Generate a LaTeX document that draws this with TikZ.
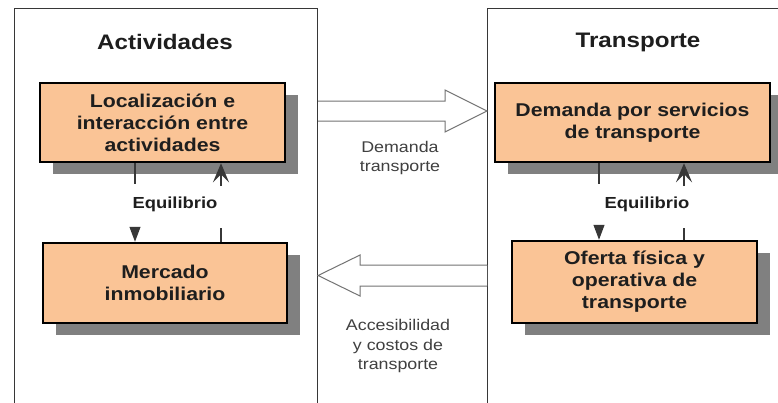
\documentclass[tikz,border=0pt]{standalone}
\usepackage{fontspec}
\setmainfont[FakeStretch=1.15]{Liberation Sans}
\usetikzlibrary{arrows.meta,shadows}
\definecolor{peach}{RGB}{250,196,150}
\definecolor{shadowgray}{RGB}{128,128,128}
\definecolor{framegray}{RGB}{55,55,55}
\definecolor{arrowgray}{RGB}{115,115,115}
\definecolor{txt}{RGB}{30,30,30}
\begin{document}
\begin{tikzpicture}[x=1pt,y=-1pt,
  panel/.style={draw=framegray,line width=1.1pt,inner sep=0pt},
  box/.style={draw=black,line width=2.5pt,fill=peach,align=center,
    font=\fontsize{18.5}{22}\selectfont\bfseries,text=txt,inner sep=0pt,
    drop shadow={shadow xshift=13pt,shadow yshift=-12pt,fill=shadowgray,opacity=1}},
  title/.style={font=\fontsize{21}{25}\selectfont\bfseries,text=txt,inner sep=0pt},
  eqlbl/.style={font=\fontsize{16}{19}\selectfont\bfseries,text=txt,inner sep=0pt},
  lbl/.style={font=\fontsize{15.5}{19.5}\selectfont,text=txt!85,align=center,inner sep=0pt},
  conn/.style={draw=framegray,line width=1.1pt},
  downtip/.style={-{Triangle[width=11pt,length=15pt]}},
  uptip/.style={-{Stealth[width=16pt,length=19pt,inset=8pt]}},
  hollow/.style={draw=arrowgray,line width=1pt,fill=white,line join=miter}
]
\useasboundingbox (0,0) rectangle (778,402);
\fill[white] (0,0) rectangle (778,402);

% panels (open at bottom: they run past the page edge)
\node[panel,minimum width=303,minimum height=420,anchor=north west] (actpanel) at (14,8) {};
\node[panel,minimum width=310,minimum height=420,anchor=north west] (trapanel) at (487,8) {};

% titles
\node[title] (acttitle) at (165,42) {Actividades};
\node[title] (tratitle) at (638,42) {Transporte};

% boxes
\node[box,minimum width=245,minimum height=79] (loc) at (162.5,122.5) {Localización e\\interacción entre\\actividades};
\node[box,minimum width=244,minimum height=80] (mer) at (165,283) {Mercado\\inmobiliario};
\node[box,minimum width=275,minimum height=79] (dem) at (632.5,122.5) {Demanda por servicios\\de transporte};
\node[box,minimum width=245,minimum height=82] (ofe) at (634.5,282) {Oferta física y\\operativa de\\transporte};

% equilibrium labels
\node[eqlbl] (eqa) at (175,204) {Equilibrio};
\node[eqlbl] (eqt) at (647,204) {Equilibrio};

% equilibrium connectors, left
\coordinate (la) at (135,184);
\coordinate (lb) at (135,227);
\coordinate (ra) at (221,186);
\coordinate (rb) at (221,228);
\draw[conn] (loc.south -| la) -- (la);
\draw[conn,downtip] (lb) -- (mer.north -| lb);
\draw[conn,uptip] (ra) -- (loc.south -| ra);
\draw[conn] (mer.north -| rb) -- (rb);

% equilibrium connectors, right
\coordinate (tla) at (599,184);
\coordinate (tlb) at (599,226);
\coordinate (tra) at (684,186);
\coordinate (trb) at (684,228);
\draw[conn] (dem.south -| tla) -- (tla);
\draw[conn,downtip] (tlb) -- (ofe.north -| tlb);
\draw[conn,uptip] (tra) -- (dem.south -| tra);
\draw[conn] (ofe.north -| trb) -- (trb);

% hollow arrows between panels
\draw[hollow] (actpanel.east |- 0,101) -- (445,101) -- (445,90) -- (trapanel.west |- 0,111)
  -- (445,132) -- (445,121) -- (actpanel.east |- 0,121);
\draw[hollow] (trapanel.west |- 0,265) -- (360,265) -- (360,255) -- (actpanel.east |- 0,275.5)
  -- (360,296) -- (360,286) -- (trapanel.west |- 0,286);

% arrow labels
\node[lbl] (demlbl) at (400,158) {Demanda\\transporte};
\node[lbl] (acclbl) at (398,346) {Accesibilidad\\y costos de\\transporte};
\end{tikzpicture}
\end{document}
